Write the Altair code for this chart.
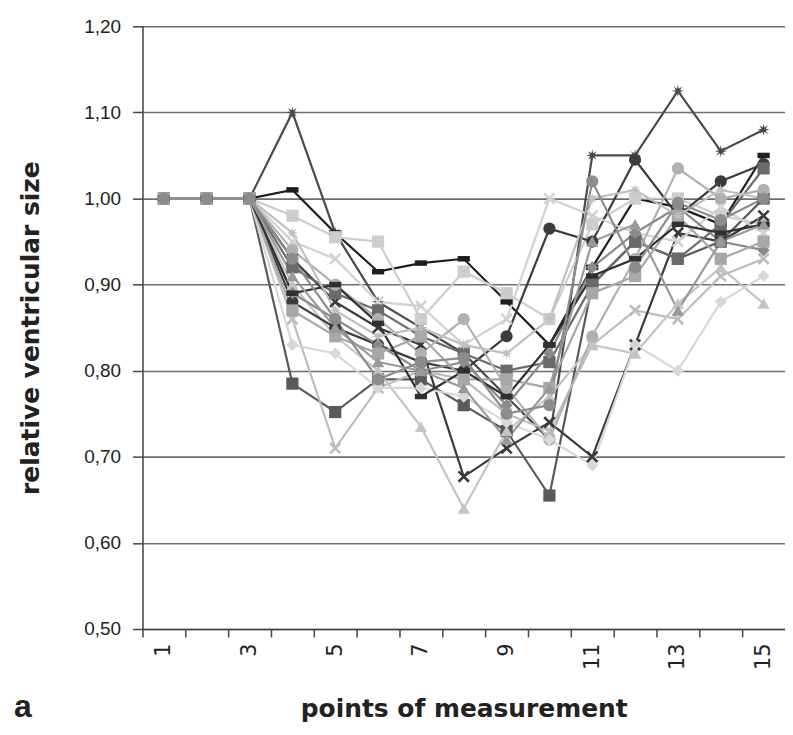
import math
import altair as alt
import pandas as pd

# ---------------- data ----------------
points = list(range(1, 16))

series_names = [f"S{i}" for i in range(1, 19)]

s01 = [1, 1, 1, 1.10, 0.96, 0.88, 0.85, 0.82, 0.77, 0.72, 1.05, 1.05, 1.125, 1.055, 1.08]
s02 = [1, 1, 1, 1.01, 0.96, 0.915, 0.925, 0.93, 0.88, 0.83, 0.92, 1.00, 0.99, 0.97, 1.05]
s03 = [1, 1, 1, 0.785, 0.752, 0.79, 0.79, 0.76, 0.73, 0.655, 0.90, 0.95, 0.93, 0.95, 1.00]
s04 = [1, 1, 1, 0.86, 0.71, 0.78, 0.80, 0.79, 0.75, 0.73, 0.83, 0.87, 0.86, 0.91, 0.93]
s05 = [1, 1, 1, 0.98, 0.955, 0.95, 0.86, 0.915, 0.89, 0.86, 0.97, 1.00, 1.00, 0.98, 0.97]
s06 = [1, 1, 1, 0.93, 0.88, 0.85, 0.83, 0.677, 0.71, 0.74, 0.70, 0.83, 0.96, 0.95, 0.98]
s07 = [1, 1, 1, 0.90, 0.84, 0.80, 0.735, 0.64, 0.73, 0.77, 0.83, 0.82, 0.878, 0.92, 0.878]
s08 = [1, 1, 1, 0.88, 0.85, 0.83, 0.81, 0.80, 0.84, 0.965, 0.95, 1.045, 0.98, 1.02, 1.04]
s09 = [1, 1, 1, 0.95, 0.93, 0.88, 0.875, 0.83, 0.86, 1.00, 0.98, 0.96, 0.95, 0.99, 0.96]
s10 = [1, 1, 1, 0.92, 0.89, 0.87, 0.84, 0.82, 0.80, 0.81, 0.90, 0.95, 0.93, 0.97, 1.035]
s11 = [1, 1, 1, 0.94, 0.90, 0.86, 0.82, 0.86, 0.78, 0.72, 0.84, 0.93, 1.035, 1.00, 1.01]
s12 = [1, 1, 1, 0.83, 0.82, 0.78, 0.78, 0.77, 0.74, 0.72, 0.69, 0.83, 0.80, 0.88, 0.91]
s13 = [1, 1, 1, 0.89, 0.86, 0.83, 0.80, 0.81, 0.76, 0.82, 0.92, 0.96, 0.99, 0.95, 0.94]
s14 = [1, 1, 1, 0.87, 0.84, 0.82, 0.84, 0.79, 0.79, 0.78, 0.89, 0.91, 0.98, 0.93, 0.95]
s15 = [1, 1, 1, 0.89, 0.90, 0.855, 0.77, 0.80, 0.77, 0.83, 0.91, 0.93, 0.97, 0.96, 0.97]
s16 = [1, 1, 1, 0.96, 0.87, 0.84, 0.85, 0.83, 0.82, 0.86, 1.00, 1.01, 0.98, 1.01, 1.00]
s17 = [1, 1, 1, 0.91, 0.85, 0.81, 0.80, 0.78, 0.72, 0.78, 0.95, 0.97, 0.87, 0.95, 0.97]
s18 = [1, 1, 1, 0.93, 0.86, 0.79, 0.81, 0.815, 0.75, 0.76, 1.02, 0.92, 0.995, 0.975, 1.00]

series_values = [s01, s02, s03, s04, s05, s06, s07, s08, s09, s10,
                 s11, s12, s13, s14, s15, s16, s17, s18]

y_ticks = [0.5, 0.6, 0.7, 0.8, 0.9, 1.0, 1.1, 1.2]

# ---------------- styles ----------------
def star_path(n=8, r_out=1.0, r_in=0.38):
    pts = []
    for k in range(2 * n):
        r = r_out if k % 2 == 0 else r_in
        a = math.pi * k / n
        pts.append(f"{r * math.sin(a):.3f},{-r * math.cos(a):.3f}")
    return "M" + "L".join(pts) + "Z"

STAR = star_path()
XSHAPE = "M-1,-0.7L-0.7,-1L0,-0.3L0.7,-1L1,-0.7L0.3,0L1,0.7L0.7,1L0,0.3L-0.7,1L-1,0.7L-0.3,0Z"
DASH = "M-1,-0.45L1,-0.45L1,0.45L-1,0.45Z"

series_colors = ["#4a4a4a", "#1e1e1e", "#5a5a5a", "#bdbdbd", "#cdcdcd", "#3a3a3a",
                 "#c4c4c4", "#3c3c3c", "#d2d2d2", "#6a6a6a", "#b0b0b0", "#d8d8d8",
                 "#8a8a8a", "#a8a8a8", "#303030", "#bfbfbf", "#9a9a9a", "#8c8c8c"]
series_shapes = [STAR, DASH, "square", XSHAPE, "square", XSHAPE,
                 "triangle-up", "circle", XSHAPE, "square", "circle", "diamond",
                 "diamond", "square", DASH, STAR, "triangle-up", "circle"]

rows = []
for name, vals in zip(series_names, series_values):
    for p, v in zip(points, vals):
        rows.append({"series": name, "point": p, "value": v})
df = pd.DataFrame(rows)

FONT = "Liberation Sans"
WIDE = "DejaVu Sans"
W, H = 645, 605
half_step = W / 15 / 2

x_enc = alt.X(
    "point:Q",
    scale=alt.Scale(domain=[0.5, 15.5], nice=False, zero=False),
    axis=alt.Axis(
        values=points,
        tickOffset=-half_step,
        labelOffset=half_step,
        labelExpr="datum.value % 2 == 1 ? datum.value : ''",
        labelAngle=270,
        labelFontSize=21,
        labelFont=WIDE,
        labelColor="#222",
        labelPadding=6,
        tickSize=8,
        tickColor="#444",
        tickWidth=1.5,
        domainColor="#444",
        domainWidth=1.5,
        grid=False,
        title="points of measurement",
        titleFont=WIDE,
        titleFontSize=25,
        titleFontWeight="bold",
        titleColor="#222",
        titlePadding=27,
    ),
)
y_enc = alt.Y(
    "value:Q",
    scale=alt.Scale(domain=[0.5, 1.2], nice=False, zero=False),
    axis=alt.Axis(
        values=y_ticks,
        labelExpr="replace(format(datum.value, '.2f'), '.', ',')",
        labelFontSize=19,
        labelFont=FONT,
        labelColor="#222",
        labelPadding=12,
        tickSize=10,
        tickColor="#444",
        tickWidth=1.5,
        domainColor="#444",
        domainWidth=1.5,
        grid=True,
        gridColor="#6e6e6e",
        gridWidth=1.6,
        title="relative ventricular size",
        titleFont=WIDE,
        titleFontSize=25,
        titleFontWeight="bold",
        titleColor="#222",
        titlePadding=40,
    ),
)

color_scale = alt.Scale(domain=series_names, range=series_colors)
shape_scale = alt.Scale(domain=series_names, range=series_shapes)

lines = alt.Chart(df).mark_line(strokeWidth=2.2).encode(
    x=x_enc,
    y=y_enc,
    color=alt.Color("series:N", scale=color_scale, legend=None),
    detail="series:N",
)

marks = alt.Chart(df).mark_point(filled=True, size=150, opacity=1).encode(
    x="point:Q",
    y="value:Q",
    color=alt.Color("series:N", scale=color_scale, legend=None),
    shape=alt.Shape("series:N", scale=shape_scale, legend=None),
)

label_a = alt.Chart(pd.DataFrame({"t": ["a"]})).mark_text(
    text="a", font=FONT, fontSize=32, fontWeight="bold", color="#222",
    align="center", baseline="alphabetic",
).encode(x=alt.value(-120), y=alt.value(H + 88))

chart = (
    alt.layer(lines, marks, label_a)
    .properties(
        width=W,
        height=H,
        padding={"left": 135, "top": 17, "right": 0, "bottom": 97},
        autosize=alt.AutoSizeParams(type="none"),
    )
    .configure_view(stroke=None)
    .configure(background="white")
)

chart.save("out.html", embed_options={"renderer": "svg", "actions": False})
